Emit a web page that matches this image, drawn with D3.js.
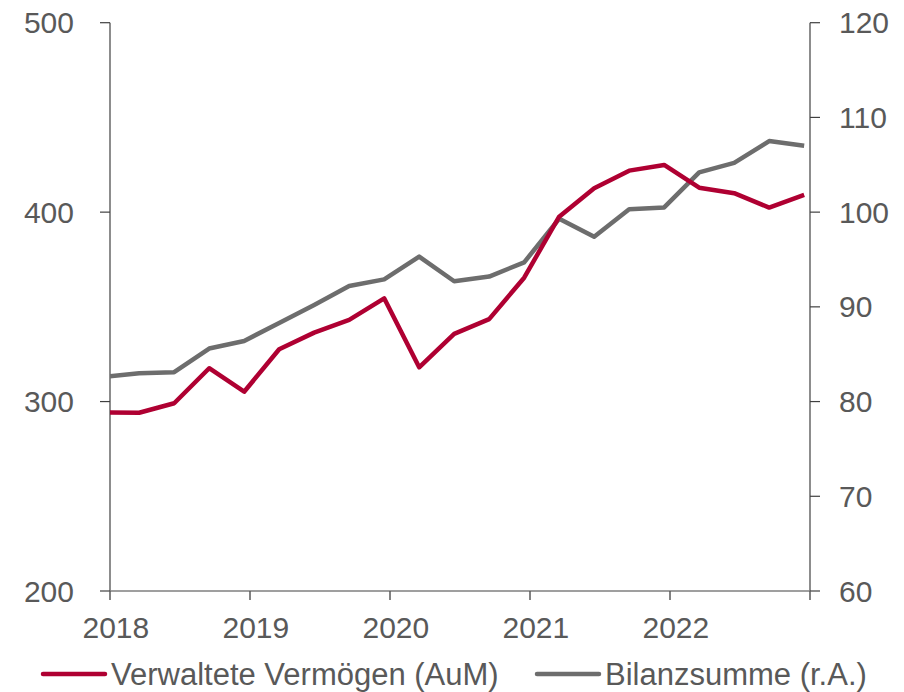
<!DOCTYPE html>
<html lang="de">
<head>
    <meta charset="UTF-8">
    <title>AuM und Bilanzsumme</title>
    <script src="https://d3js.org/d3.v7.min.js"></script>
    <style>
        body { margin: 0; background: #fff; font-family: Arial, "Liberation Sans", sans-serif; }
        svg { display: block; }
        .lbl { fill: #595959; font-size: 30px; }
        .leg { fill: #595959; font-size: 31px; }
    </style>
</head>
<body>
    <svg width="904" height="692"></svg>
    <script>
        // quarter-end dates, month index from Jan 2018 (Dec 2017 = -1)
        const months = [-1, 2, 5, 8, 11, 14, 17, 20, 23, 26, 29, 32, 35, 38, 41, 44, 47, 50, 53, 56, 59];
        const aum = [294.3, 294.1, 299.1, 317.6, 305.2, 327.6, 336.4, 343.1, 354.5, 318.1, 335.7, 343.5,
                     365.4, 397.6, 412.6, 421.9, 424.9, 412.9, 410.0, 402.4, 409.1];
        const bilanz = [82.6, 83.0, 83.1, 85.6, 86.4, 88.3, 90.2, 92.2, 92.9, 95.3, 92.7, 93.2,
                        94.7, 99.3, 97.4, 100.3, 100.5, 104.2, 105.2, 107.5, 107.0];
        const years = ["2018", "2019", "2020", "2021", "2022"];
        const leftTicks = [200, 300, 400, 500];
        const rightTicks = [60, 70, 80, 90, 100, 110, 120];

        const svg = d3.select("svg");
        const pL = 110, pR = 810, pT = 22.7, pB = 591;

        const x = d3.scaleLinear().domain([0, 60]).range([pL, pR]);
        const yL = d3.scaleLinear().domain([200, 500]).range([pB, pT]);
        const yR = d3.scaleLinear().domain([60, 120]).range([pB, pT]);

        svg.append("clipPath").attr("id", "plot")
            .append("rect").attr("x", pL).attr("y", 0).attr("width", pR - pL).attr("height", 692);

        // left axis
        const ax = svg.append("g");
        ax.append("line").attr("x1", pL).attr("x2", pL).attr("y1", pT).attr("y2", pB)
            .attr("stroke", "#404040").attr("stroke-width", 1.2);
        leftTicks.forEach(v => {
            ax.append("line").attr("x1", pL - 10).attr("x2", pL).attr("y1", yL(v)).attr("y2", yL(v))
                .attr("stroke", "#404040").attr("stroke-width", 1.2);
            ax.append("text").attr("class", "lbl").attr("x", 74).attr("y", yL(v)).attr("dy", "0.35em")
                .attr("text-anchor", "end").text(v);
        });

        // right axis
        ax.append("line").attr("x1", pR).attr("x2", pR).attr("y1", pT).attr("y2", pB)
            .attr("stroke", "#404040").attr("stroke-width", 1.2);
        rightTicks.forEach(v => {
            ax.append("line").attr("x1", pR).attr("x2", pR + 10).attr("y1", yR(v)).attr("y2", yR(v))
                .attr("stroke", "#404040").attr("stroke-width", 1.2);
            ax.append("text").attr("class", "lbl").attr("x", 839).attr("y", yR(v)).attr("dy", "0.35em")
                .attr("text-anchor", "start").text(v);
        });

        // bottom axis
        ax.append("line").attr("x1", pL).attr("x2", pR).attr("y1", pB).attr("y2", pB)
            .attr("stroke", "#7f7f7f").attr("stroke-width", 1.5);
        d3.range(0, 61, 12).forEach(m => {
            ax.append("line").attr("x1", x(m)).attr("x2", x(m)).attr("y1", pB).attr("y2", pB + 9)
                .attr("stroke", "#595959").attr("stroke-width", 1.5);
        });
        years.forEach((yr, i) => {
            ax.append("text").attr("class", "lbl").attr("x", x(i * 12 + 0.5)).attr("y", 638)
                .attr("text-anchor", "middle").text(yr);
        });

        // lines
        const plot = svg.append("g").attr("clip-path", "url(#plot)");
        const lineL = d3.line().x((d, i) => x(months[i] + 0.5)).y(d => yL(d));
        const lineR = d3.line().x((d, i) => x(months[i] + 0.5)).y(d => yR(d));
        plot.append("path").attr("d", lineR(bilanz)).attr("fill", "none")
            .attr("stroke", "#6d6d6d").attr("stroke-width", 4.5).attr("stroke-linejoin", "round");
        plot.append("path").attr("d", lineL(aum)).attr("fill", "none")
            .attr("stroke", "#af0032").attr("stroke-width", 4.5).attr("stroke-linejoin", "round");

        // legend
        const legend = [
            { name: "Verwaltete Vermögen (AuM)", color: "#af0032", x: 43 },
            { name: "Bilanzsumme (r.A.)", color: "#6d6d6d", x: 537 }
        ];
        legend.forEach(l => {
            svg.append("line").attr("x1", l.x).attr("x2", l.x + 62).attr("y1", 674).attr("y2", 674)
                .attr("stroke", l.color).attr("stroke-width", 4.5).attr("stroke-linecap", "round");
            svg.append("text").attr("class", "leg").attr("x", l.x + 68).attr("y", 685).text(l.name);
        });
    </script>
</body>
</html>
